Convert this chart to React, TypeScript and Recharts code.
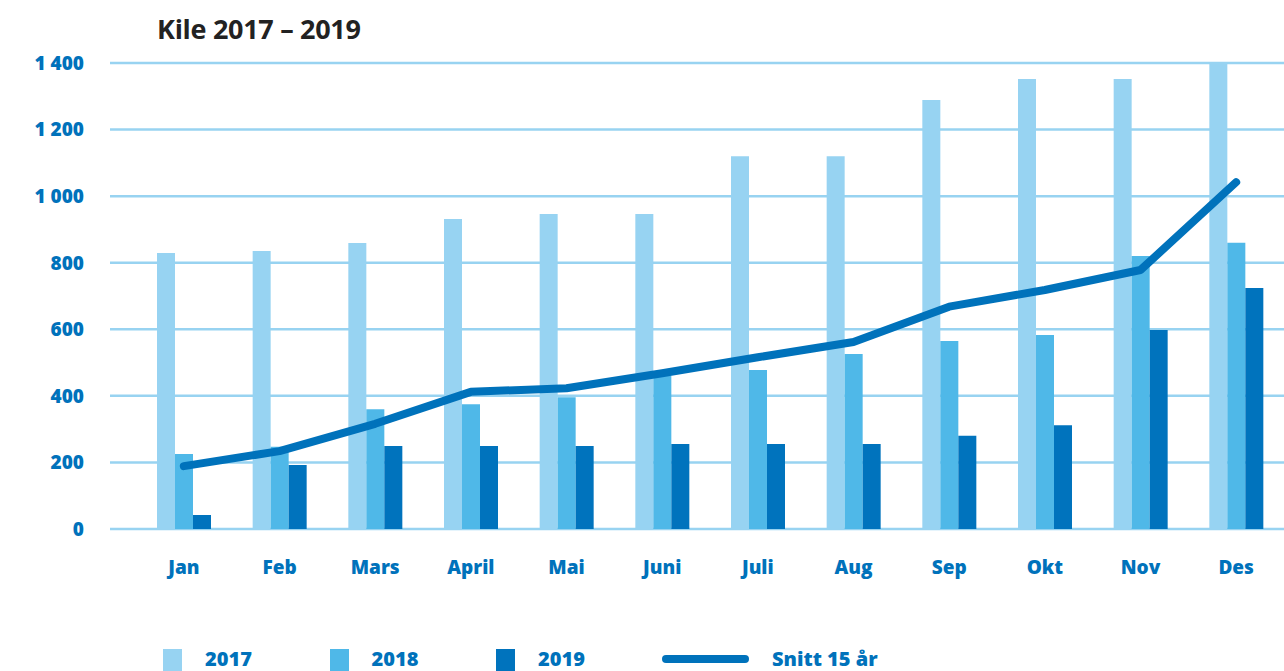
import { Bar, CartesianGrid, ComposedChart, Line, XAxis, YAxis } from "recharts";

const MONTHS = ["Jan", "Feb", "Mars", "April", "Mai", "Juni", "Juli", "Aug", "Sep", "Okt", "Nov", "Des"];
const Y2017 = [829, 835, 859, 931, 946, 946, 1120, 1120, 1289, 1352, 1352, 1400];
const Y2018 = [225, 247, 360, 375, 396, 460, 478, 526, 565, 583, 820, 860];
const Y2019 = [42, 192, 249, 249, 249, 255, 255, 255, 280, 312, 598, 724];
const SNITT = [189, 234, 316, 412, 423, 468, 516, 562, 668, 718, 778, 1042];
const Y_TICKS = [0, 200, 400, 600, 800, 1000, 1200, 1400];

const BARS = [
  { key: "y2017", label: "2017", color: "#97d3f2" },
  { key: "y2018", label: "2018", color: "#4fb8e8" },
  { key: "y2019", label: "2019", color: "#0073bd" },
];
const LINE = { key: "snitt", label: "Snitt 15 år", color: "#0072bb" };

const data = MONTHS.map((m, i) => ({
  m,
  y2017: Y2017[i],
  y2018: Y2018[i],
  y2019: Y2019[i],
  snitt: SNITT[i],
}));

const FONT = "'Open Sans', sans-serif";
const BLUE = "#0072bb";

const fmt = (v: number) => (v >= 1000 ? `${Math.floor(v / 1000)} ${String(v % 1000).padStart(3, "0")}` : String(v));

const YTick = ({ x, y, payload }: any) => (
  <text x={x - 26} y={y} dy="0.36em" textAnchor="end" fill={BLUE} fontSize={19} fontWeight={800} fontFamily={FONT}>
    {fmt(payload.value)}
  </text>
);

const XTick = ({ x, y, payload }: any) => (
  <text x={x} y={y} dy={45} textAnchor="middle" fill={BLUE} fontSize={19} fontWeight={800} fontFamily={FONT}>
    {payload.value}
  </text>
);

export default function App() {
  return (
    <div
      style={{
        position: "absolute",
        left: 0,
        top: 0,
        width: 1284,
        height: 671,
        overflow: "hidden",
        background: "#fff",
        fontFamily: FONT,
      }}
    >
      <div
        style={{
          position: "absolute",
          left: 157,
          top: 10,
          fontSize: 27,
          fontWeight: 700,
          color: "#222",
          letterSpacing: -0.3,
          whiteSpace: "nowrap",
        }}
      >
        Kile 2017 – 2019
      </div>

      <ComposedChart
        width={1284}
        height={600}
        data={data}
        margin={{ top: 63, right: 0, bottom: 0, left: 0 }}
        barGap={0}
        barSize={18}
      >
        <CartesianGrid horizontal vertical={false} stroke="#98d3f1" strokeWidth={2.5} />
        <XAxis
          dataKey="m"
          height={71}
          padding={{ left: 26, right: 0 }}
          axisLine={false}
          tickLine={false}
          tickSize={0}
          tickMargin={0}
          tick={<XTick />}
          interval={0}
        />
        <YAxis
          width={110}
          domain={[0, 1400]}
          ticks={Y_TICKS}
          axisLine={false}
          tickLine={false}
          tickSize={0}
          tickMargin={0}
          tick={<YTick />}
        />
        {BARS.map((b) => (
          <Bar key={b.key} dataKey={b.key} fill={b.color} isAnimationActive={false} />
        ))}
        <Line
          dataKey={LINE.key}
          stroke={LINE.color}
          strokeWidth={8}
          strokeLinecap="round"
          strokeLinejoin="round"
          dot={false}
          activeDot={false}
          type="linear"
          isAnimationActive={false}
        />
      </ComposedChart>

      {BARS.map((b, i) => (
        <div
          key={b.key}
          style={{ position: "absolute", left: 163 + i * 166.5, top: 649, display: "flex", alignItems: "flex-start" }}
        >
          <span style={{ width: 19, height: 22, background: b.color, display: "inline-block" }} />
          <span style={{ marginLeft: 23, fontSize: 20, fontWeight: 800, color: BLUE, lineHeight: "18px", marginTop: 1 }}>
            {b.label}
          </span>
        </div>
      ))}
      <div style={{ position: "absolute", left: 662, top: 649, display: "flex", alignItems: "flex-start" }}>
        <span
          style={{
            width: 87,
            height: 8,
            background: LINE.color,
            borderRadius: 4,
            display: "inline-block",
            marginTop: 6,
          }}
        />
        <span style={{ marginLeft: 23, fontSize: 20, fontWeight: 800, color: BLUE, lineHeight: "18px", marginTop: 1 }}>
          {LINE.label}
        </span>
      </div>
    </div>
  );
}
